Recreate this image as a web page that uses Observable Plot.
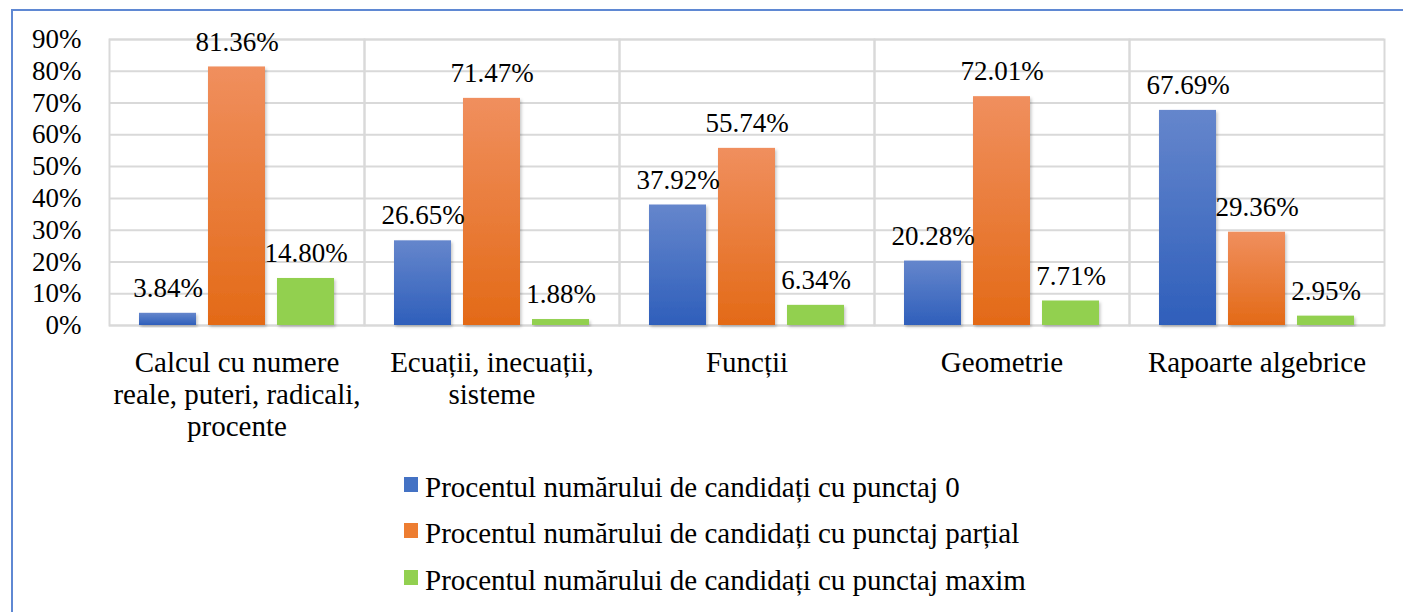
<!DOCTYPE html>
<html>
<head>
<meta charset="utf-8">
<script src="https://cdn.jsdelivr.net/npm/d3@7"></script>
<script src="https://cdn.jsdelivr.net/npm/@observablehq/plot@0.6"></script>
<style>
  body { margin: 0; padding: 0; background: #fff; }
  .serif { font-family: 'Liberation Serif', serif; }
  #border { position: absolute; left: 11px; top: 9px; width: 1392px; height: 603px; border-left: 2px solid #5f88d3; border-top: 2px solid #5f88d3; box-sizing: border-box; }
  #chart { position: absolute; left: 0; top: 0; }
  .lg-sw { position: absolute; width: 14px; height: 15px; }
  .lg-tx { position: absolute; font-size: 29px; line-height: 29px; white-space: nowrap; color: #000; }
</style>
</head>
<body class="serif">
<div id="border"></div><div id="chart"></div><div id="legend"></div>
<script>
const categories = [
  "Calcul cu numere reale, puteri, radicali, procente",
  "Ecuații, inecuații, sisteme",
  "Funcții",
  "Geometrie",
  "Rapoarte algebrice"
];
const categoryLines = [
  ["Calcul cu numere", "reale, puteri, radicali,", "procente"],
  ["Ecuații, inecuații,", "sisteme"],
  ["Funcții"],
  ["Geometrie"],
  ["Rapoarte algebrice"]
];
const series = [
  "Procentul numărului de candidați cu punctaj 0",
  "Procentul numărului de candidați cu punctaj parțial",
  "Procentul numărului de candidați cu punctaj maxim"
];
const valuesZero = [3.84, 26.65, 37.92, 20.28, 67.69];
const valuesPartial = [81.36, 71.47, 55.74, 72.01, 29.36];
const valuesMax = [14.80, 1.88, 6.34, 7.71, 2.95];
const yTicks = [0, 10, 20, 30, 40, 50, 60, 70, 80, 90];
const legendColors = ["#4472c4", "#ed7d31", "#92d050"];
const gradients = [
  {id: "gBlue", top: "#6586cc", bottom: "#2f5fbb"},
  {id: "gOrange", top: "#f08f5e", bottom: "#e36a17"},
  {id: "gGreen", top: "#92d050", bottom: "#92d050"}
];

const seriesValues = [valuesZero, valuesPartial, valuesMax];
const rows = [];
categories.forEach((c, i) => {
  series.forEach((s, j) => rows.push({category: c, series: s, value: seriesValues[j][i]}));
});

const chart = Plot.plot({
  width: 1403,
  height: 450,
  marginLeft: 107,
  marginRight: 17,
  marginTop: 39,
  marginBottom: 125,
  style: "font-family: 'Liberation Serif', serif; font-size: 27px; background: transparent; overflow: visible;",
  fx: {domain: categories, paddingInner: 0, paddingOuter: 0, axis: null, label: null},
  x: {domain: series, paddingInner: 0.171, paddingOuter: 0.414, axis: null, label: null},
  y: {domain: [0, 90], label: null},
  color: {type: "ordinal", domain: series, range: gradients.map(g => `url(#${g.id})`)},
  marks: [
    Plot.gridY(yTicks, {stroke: "#d9d9d9", strokeOpacity: 1, strokeWidth: 2}),
    Plot.frame({stroke: "#d9d9d9", strokeWidth: 2}),
    Plot.barY(rows, {fx: "category", x: "series", y: "value", fill: "series"}),
    Plot.text(rows, {fx: "category", x: "series", y: "value", text: d => d.value.toFixed(2) + "%", dy: -25, fontSize: 27, fill: "#000"}),
    Plot.axisY(yTicks, {tickSize: 0, tickPadding: 28, tickFormat: d => d + "%", fontSize: 27, fill: "#000", label: null}),
    Plot.text(categories, {fx: d => d, text: d => categoryLines[categories.indexOf(d)].join("\n"), frameAnchor: "bottom", lineAnchor: "top", dy: 24, lineHeight: 1.1, fontSize: 29, fill: "#000"})
  ]
});

// gradients and a light shadow under the bars
const ns = "http://www.w3.org/2000/svg";
const defs = document.createElementNS(ns, "defs");
gradients.forEach(g => {
  const lg = document.createElementNS(ns, "linearGradient");
  lg.setAttribute("id", g.id);
  lg.setAttribute("x1", "0"); lg.setAttribute("y1", "0"); lg.setAttribute("x2", "0"); lg.setAttribute("y2", "1");
  [[0, g.top], [1, g.bottom]].forEach(([o, c]) => {
    const st = document.createElementNS(ns, "stop");
    st.setAttribute("offset", o); st.setAttribute("stop-color", c);
    lg.appendChild(st);
  });
  defs.appendChild(lg);
});
const filt = document.createElementNS(ns, "filter");
filt.setAttribute("id", "shadow");
filt.setAttribute("x", "-20%"); filt.setAttribute("y", "-10%"); filt.setAttribute("width", "150%"); filt.setAttribute("height", "130%");
const ds = document.createElementNS(ns, "feDropShadow");
ds.setAttribute("dx", "1.5"); ds.setAttribute("dy", "2"); ds.setAttribute("stdDeviation", "1.5"); ds.setAttribute("flood-color", "#000"); ds.setAttribute("flood-opacity", "0.22");
filt.appendChild(ds);
defs.appendChild(filt);
chart.insertBefore(defs, chart.firstChild);
chart.querySelectorAll("g[aria-label='bar'] rect").forEach(r => r.setAttribute("filter", "url(#shadow)"));
document.getElementById("chart").appendChild(chart);

// legend
const legend = document.getElementById("legend");
const baselines = [497, 543, 590];
series.forEach((s, i) => {
  const sw = document.createElement("div");
  sw.className = "lg-sw";
  sw.style.left = "404px";
  sw.style.top = (baselines[i] - 20) + "px";
  sw.style.background = legendColors[i];
  legend.appendChild(sw);
  const tx = document.createElement("div");
  tx.className = "lg-tx";
  tx.style.left = "425px";
  tx.style.top = (baselines[i] - 24) + "px";
  tx.textContent = s;
  legend.appendChild(tx);
});
</script>
</body>
</html>
